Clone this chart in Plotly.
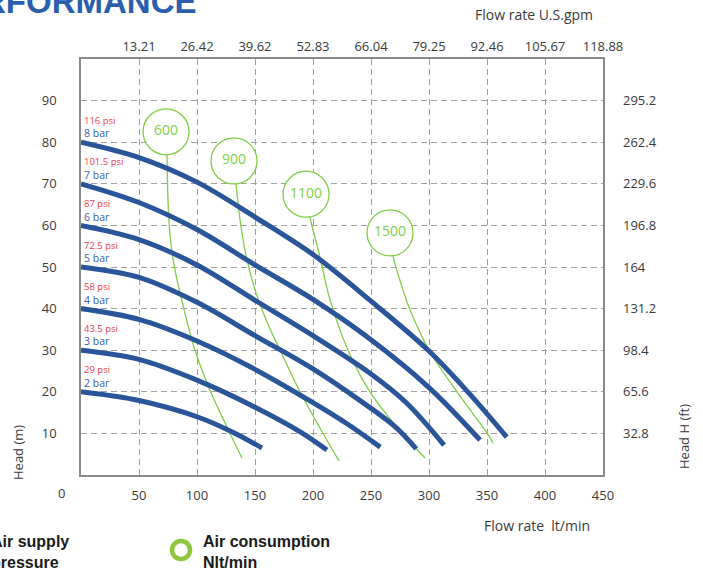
import plotly.graph_objects as go

# ---------------- data ----------------
pressure_bar = [2, 3, 4, 5, 6, 7, 8]
pressure_psi = ["29 psi", "43.5 psi", "58 psi", "72.5 psi", "87 psi", "101.5 psi", "116 psi"]

flow_2bar = [0, 50, 100, 130, 156]
head_2bar = [20, 17.9, 14.0, 10.4, 6.5]
flow_3bar = [0, 50, 100, 150, 190, 212]
head_3bar = [30, 27.8, 22.8, 16.3, 10.2, 6.0]
flow_4bar = [0, 50, 100, 150, 200, 230, 258]
head_4bar = [40, 37.4, 32.2, 25.4, 17.4, 12.2, 6.7]
flow_5bar = [0, 50, 100, 150, 200, 240, 270, 289]
head_5bar = [50, 47.5, 41.5, 33.5, 25.5, 18.0, 11.8, 6.3]
flow_6bar = [0, 50, 100, 150, 200, 250, 280, 313]
head_6bar = [60, 56.6, 50.5, 42.0, 33.5, 24.3, 17.5, 7.2]
flow_7bar = [0, 50, 100, 150, 200, 250, 300, 344]
head_7bar = [70, 65.5, 59.0, 50.5, 42.2, 32.5, 21.0, 8.4]
flow_8bar = [0, 50, 100, 150, 200, 250, 300, 335, 367]
head_8bar = [80, 76.3, 70.4, 62.0, 53.0, 41.8, 29.8, 19.5, 9.1]

air_labels = ["600", "900", "1100", "1500"]
air_label_flow = [73.3, 131.9, 194.0, 266.4]
air_label_head = [82.5, 75.5, 67.5, 58.2]

flow_600 = [73.3, 74.1, 75.0, 76.7, 80.2, 86.2, 98.3, 111.2, 125.9, 138.8]
head_600 = [82.5, 76.9, 66.1, 57.7, 50.5, 42.8, 30.0, 20.4, 11.5, 4.1]
flow_900 = [131.9, 133.6, 137.1, 142.2, 150.0, 159.5, 171.6, 188.8, 206.0, 222.4]
head_900 = [75.5, 70.0, 61.3, 52.9, 44.5, 37.3, 30.0, 20.0, 11.3, 3.4]
flow_1100 = [194.0, 197.4, 206.0, 214.7, 230.2, 249.1, 276.7, 296.6]
head_1100 = [67.5, 62.0, 52.4, 42.1, 30.0, 20.0, 10.1, 4.1]
flow_1500 = [266.4, 269.0, 277.6, 283.6, 300.0, 324.1, 350.0, 355.2]
head_1500 = [58.2, 52.6, 44.5, 39.7, 30.0, 20.0, 10.1, 7.7]

bottom_ticks = [50, 100, 150, 200, 250, 300, 350, 400, 450]
left_ticks = [10, 20, 30, 40, 50, 60, 70, 80, 90]
top_tick_labels = ["13.21", "26.42", "39.62", "52.83", "66.04", "79.25", "92.46", "105.67", "118.88"]
right_tick_labels = ["32.8", "65.6", "98.4", "131.2", "164", "196.8", "229.6", "262.4", "295.2"]

# ---------------- styling ----------------
W, H = 703, 572
ML, MR, MT, MB = 81, 100, 59, 97
PW, PH = W - ML - MR, H - MT - MB
BLUE = "#2b5599"
GREEN = "#7fcf45"
RED = "#ee3b45"
LBLUE = "#3c5fa9"
TXT = "#3a3a3a"
GRID = "#a0a0a0"
FONT = "Open Sans"
LPM_PER_GPM = 3.785411784
FT_PER_M = 3.28


def px_x(px):
    return (px - ML) / PW


def px_y(py):
    return (H - MB - py) / PH


fig = go.Figure()

air_flows = [flow_600, flow_900, flow_1100, flow_1500]
air_heads = [head_600, head_900, head_1100, head_1500]
for fx, hy in zip(air_flows, air_heads):
    fig.add_trace(go.Scatter(x=fx, y=hy, mode="lines", line=dict(color=GREEN, width=1.3, shape="spline"),
                             showlegend=False, hoverinfo="skip"))

fig.add_trace(go.Scatter(x=air_label_flow, y=air_label_head, mode="markers+text", text=air_labels,
                         textposition="middle center", textfont=dict(family=FONT, size=14, color=GREEN),
                         marker=dict(symbol="circle", size=46, color="white", line=dict(color=GREEN, width=1.3)),
                         showlegend=False, hoverinfo="skip", cliponaxis=False))

flows = [flow_2bar, flow_3bar, flow_4bar, flow_5bar, flow_6bar, flow_7bar, flow_8bar]
heads = [head_2bar, head_3bar, head_4bar, head_5bar, head_6bar, head_7bar, head_8bar]
for fx, hy in zip(flows, heads):
    fig.add_trace(go.Scatter(x=fx, y=hy, mode="lines", line=dict(color=BLUE, width=5, shape="spline",
                                                                 smoothing=1.0),
                             showlegend=False, hoverinfo="skip"))

# dummy trace to activate the secondary axes
fig.add_trace(go.Scatter(x=[None], y=[None], xaxis="x2", yaxis="y2", showlegend=False, hoverinfo="skip"))

ann = []
for bar, psi, hy in zip(pressure_bar, pressure_psi, heads):
    ann.append(dict(x=1.0, y=hy[0] + 5.25, xref="x", yref="y", text=psi, showarrow=False, xanchor="left",
                    yanchor="middle", font=dict(family=FONT, size=9.5, color=RED)))
    ann.append(dict(x=1.0, y=hy[0] + 2.1, xref="x", yref="y", text=f"{bar} bar", showarrow=False,
                    xanchor="left", yanchor="middle", font=dict(family=FONT, size=10.5, color=LBLUE)))


def note(px, py, text, size=14, **kw):
    d = dict(x=px_x(px), y=px_y(py), xref="paper", yref="paper", text=text, showarrow=False,
             xanchor="center", yanchor="middle", font=dict(family=FONT, size=size, color=TXT))
    d.update(kw)
    return d


ann += [
    note(61, 493, "0", 13),
    note(537, 525, "Flow rate  lt/min", 14),
    note(534, 15, "Flow rate U.S.gpm", 14),
    note(18, 453, "Head (m)", 13, textangle=-90),
    note(684, 437, "Head H (ft)", 13, textangle=-90),
    note(199, 1, "<b>PERFORMANCE</b>", xanchor="right",
         font=dict(family="Liberation Sans", size=33, color="#2b5fad")),
    note(-11, 552, "<b>Air supply<br>pressure</b>", xanchor="left", align="left",
         font=dict(family="Liberation Sans", size=16, color="#1a1a1a")),
    note(201, 552, "<b>Air consumption<br>Nlt/min</b>", xanchor="left", align="left",
         font=dict(family="Liberation Sans", size=16, color="#1a1a1a")),
]

shapes = [dict(type="circle", xref="paper", yref="paper", x0=px_x(172), x1=px_x(190), y0=px_y(559), y1=px_y(541),
               line=dict(color="#8dc63f", width=4.5), fillcolor="rgba(0,0,0,0)")]

axis_common = dict(showline=True, mirror=True, linecolor="#8a8a8a", linewidth=1.5, zeroline=False, ticks="",
                   tickfont=dict(family=FONT, size=13, color=TXT), gridcolor=GRID, gridwidth=1,
                   griddash="6px,4px")

fig.update_layout(
    width=W, height=H, margin=dict(l=ML, r=MR, t=MT, b=MB),
    paper_bgcolor="white", plot_bgcolor="white",
    xaxis=dict(range=[0, 450], tickvals=bottom_ticks, ticktext=[str(v) for v in bottom_ticks],
               showgrid=True, ticklabelstandoff=8, **axis_common),
    yaxis=dict(range=[0, 100], tickvals=left_ticks, ticktext=[str(v) for v in left_ticks],
               showgrid=True, ticklabelstandoff=20, **axis_common),
    xaxis2=dict(overlaying="x", side="top", range=[0, 450 / LPM_PER_GPM],
                tickvals=[float(t) for t in top_tick_labels], ticktext=top_tick_labels,
                showgrid=False, showline=False, zeroline=False, ticks="", ticklabelstandoff=4,
                tickfont=dict(family=FONT, size=13, color=TXT)),
    yaxis2=dict(overlaying="y", side="right", range=[0, 100 * FT_PER_M],
                tickvals=[float(t) for t in right_tick_labels], ticktext=right_tick_labels,
                showgrid=False, showline=False, zeroline=False, ticks="", ticklabelstandoff=19,
                tickfont=dict(family=FONT, size=13, color=TXT)),
    annotations=ann, shapes=shapes, showlegend=False,
)

fig.write_html("out.html", config={"displayModeBar": False},
               post_script="document.body.style.margin='0px';")
